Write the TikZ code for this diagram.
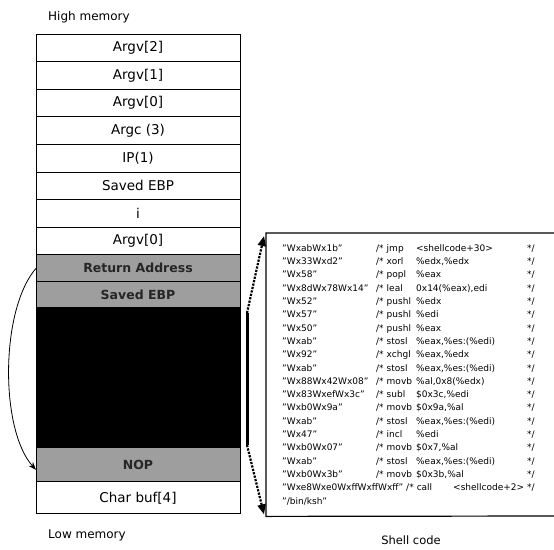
\documentclass[tikz,border=0pt]{standalone}
\usepackage{fontspec}
\setmainfont{DejaVu Sans}
\usepackage{tikz}
\usetikzlibrary{positioning, arrows.meta, calc}

\newcommand{\asmline}[3]{\makebox[94pt][l]{#1}\makebox[40pt][l]{/* #2}\makebox[111pt][l]{#3}*/}

\begin{document}
\begin{tikzpicture}[x=1pt, y=-1pt, node distance=0pt,
    cell/.style={draw, line width=0.8pt, minimum width=204pt, minimum height=27.6pt, inner sep=0pt, outer sep=0pt, font=\fontsize{13.5}{15}\selectfont},
    shaded/.style={cell, fill=black!38, text=black!85, font=\fontsize{12.5}{15}\selectfont\bfseries},
    memlabel/.style={anchor=west, inner sep=0pt, font=\fontsize{12}{14}\selectfont},
    dotarrow/.style={line width=2.2pt, dash pattern=on 2.2pt off 1.3pt, -{Triangle[length=10pt,width=8pt]}}]

    \useasboundingbox (0,0) rectangle (554,549);

    \node [memlabel] (high) at (48,17) {High memory};

    % stack, top to bottom
    \node [cell, anchor=north] (argvtwo) at (138,34) {Argv[2]};
    \node [cell, below=of argvtwo] (argvone) {Argv[1]};
    \node [cell, below=of argvone] (argvzero) {Argv[0]};
    \node [cell, below=of argvzero] (argc) {Argc (3)};
    \node [cell, below=of argc] (ip) {IP(1)};
    \node [cell, below=of ip] (savedebp) {Saved EBP};
    \node [cell, below=of savedebp] (ivar) {i};
    \node [cell, below=of ivar] (argvlocal) {Argv[0]};
    \node [shaded, minimum height=27pt, below=of argvlocal] (retaddr) {Return Address};
    \node [shaded, minimum height=26pt, below=of retaddr] (savedebpb) {Saved EBP};
    \node [cell, fill=black, minimum height=140pt, below=of savedebpb] (shellfill) {};
    \node [shaded, minimum height=34pt, below=of shellfill] (nop) {NOP};
    \node [cell, minimum height=32pt, below=of nop] (charbuf) {Char buf[4]};

    \node [memlabel] (low) at (48,535) {Low memory};

    % shell code listing
    \node [anchor=north west, minimum height=283pt, inner xsep=16pt, inner ysep=1pt, text width=272pt, align=left, font=\fontsize{9}{13.3}\selectfont] (code) at (266,233) {%
        \asmline{"WxabWx1b"}{jmp}{<shellcode+30>}\\
        \asmline{"Wx33Wxd2"}{xorl}{\%edx,\%edx}\\
        \asmline{"Wx58"}{popl}{\%eax}\\
        \asmline{"Wx8dWx78Wx14"}{leal}{0x14(\%eax),edi}\\
        \asmline{"Wx52"}{pushl}{\%edx}\\
        \asmline{"Wx57"}{pushl}{\%edi}\\
        \asmline{"Wx50"}{pushl}{\%eax}\\
        \asmline{"Wxab"}{stosl}{\%eax,\%es:(\%edi)}\\
        \asmline{"Wx92"}{xchgl}{\%eax,\%edx}\\
        \asmline{"Wxab"}{stosl}{\%eax,\%es:(\%edi)}\\
        \asmline{"Wx88Wx42Wx08"}{movb}{\%al,0x8(\%edx)}\\
        \asmline{"Wx83WxefWx3c"}{subl}{\$0x3c,\%edi}\\
        \asmline{"Wxb0Wx9a"}{movb}{\$0x9a,\%al}\\
        \asmline{"Wxab"}{stosl}{\%eax,\%es:(\%edi)}\\
        \asmline{"Wx47"}{incl}{\%edi}\\
        \asmline{"Wxb0Wx07"}{movb}{\$0x7,\%al}\\
        \asmline{"Wxab"}{stosl}{\%eax,\%es:(\%edi)}\\
        \asmline{"Wxb0Wx3b"}{movb}{\$0x3b,\%al}\\
        \makebox[245pt][s]{"Wxe8Wxe0WxffWxffWxff" /* call\hfill<shellcode+2>\ }*/\\
        "/bin/ksh"};
    \coordinate (rimtop) at (554,233);
    \coordinate (rimbot) at (554,516);
    \draw [line width=1.2pt] (rimtop) -- (code.north west) -- (code.south west) -- (rimbot);

    \node [font=\fontsize{11.5}{14}\selectfont] (shelllabel) at (411,540) {Shell code};

    % overflow arrows
    \coordinate (bartop) at (247,313);
    \coordinate (barbot) at (247,445);
    \draw [line width=3pt] (bartop) -- (barbot);
    \draw [dotarrow] (bartop) -- ([shift={(-2,3)}]code.north west);
    \draw [dotarrow] (barbot) -- ([shift={(-2,-2)}]code.south west);
    \draw [line width=0.8pt, -{Stealth[length=8pt,width=6pt]}] (retaddr.west) .. controls (0,310) and (0,430) .. ([shift={(0,5)}]nop.west);
\end{tikzpicture}
\end{document}
